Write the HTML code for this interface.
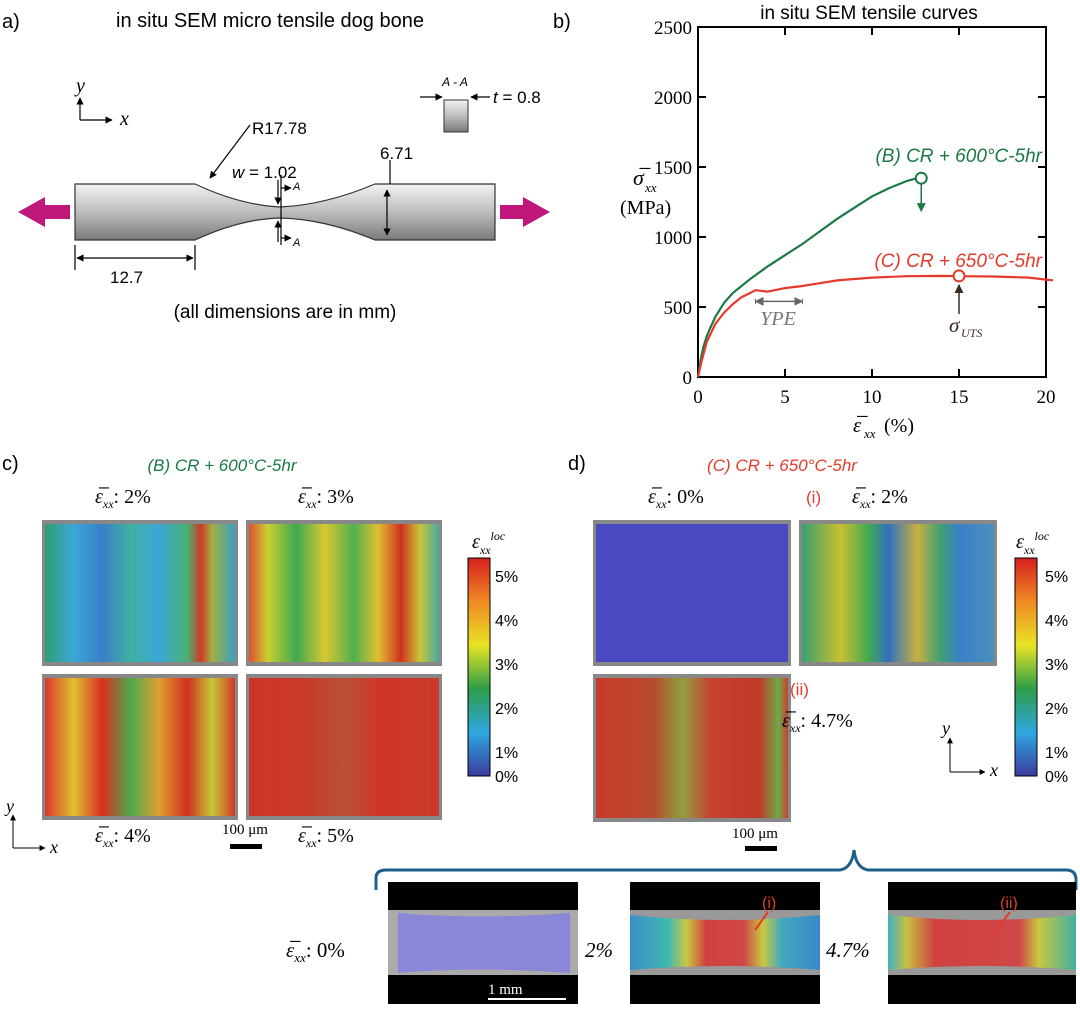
<!DOCTYPE html>
<html><head><meta charset="utf-8"><style>
body{margin:0;width:1080px;height:1014px;background:#fff;overflow:hidden;font-family:"Liberation Sans",sans-serif}
svg{position:absolute;left:0;top:0}
</style></head><body>
<svg width="1080" height="1014" viewBox="0 0 1080 1014">
<defs>
<linearGradient id="metal" x1="0" y1="0" x2="0" y2="1"><stop offset="0" stop-color="#f2f2f2"/><stop offset="0.5" stop-color="#bdbdbd"/><stop offset="1" stop-color="#7a7a7a"/></linearGradient>
<linearGradient id="cbar" x1="0" y1="1" x2="0" y2="0"><stop offset="0" stop-color="#3b3b9e"/><stop offset="0.2" stop-color="#2fa7e0"/><stop offset="0.4" stop-color="#2e9e48"/><stop offset="0.6" stop-color="#e8e424"/><stop offset="0.8" stop-color="#f08a22"/><stop offset="1" stop-color="#d62020"/></linearGradient>
<linearGradient id="h1" x1="0" x2="1"><stop offset="0" stop-color="#2e9e70"/><stop offset="0.15" stop-color="#3aa8d8"/><stop offset="0.3" stop-color="#3a7ec8"/><stop offset="0.45" stop-color="#40b0a0"/><stop offset="0.6" stop-color="#3aa8d8"/><stop offset="0.75" stop-color="#4ab070"/><stop offset="0.82" stop-color="#d03828"/><stop offset="0.88" stop-color="#a0b040"/><stop offset="1" stop-color="#3aa0c0"/></linearGradient>
<linearGradient id="h2" x1="0" x2="1"><stop offset="0" stop-color="#e05030"/><stop offset="0.1" stop-color="#c8d030"/><stop offset="0.25" stop-color="#40a850"/><stop offset="0.4" stop-color="#d8c830"/><stop offset="0.55" stop-color="#50b050"/><stop offset="0.68" stop-color="#e0c030"/><stop offset="0.8" stop-color="#d03020"/><stop offset="0.9" stop-color="#c8c838"/><stop offset="1" stop-color="#48a8a0"/></linearGradient>
<linearGradient id="h3" x1="0" x2="1"><stop offset="0" stop-color="#d83828"/><stop offset="0.15" stop-color="#e0c030"/><stop offset="0.3" stop-color="#d83020"/><stop offset="0.45" stop-color="#50a850"/><stop offset="0.6" stop-color="#e0a030"/><stop offset="0.75" stop-color="#d03020"/><stop offset="0.88" stop-color="#c8c838"/><stop offset="1" stop-color="#d03828"/></linearGradient>
<linearGradient id="h4" x1="0" x2="1"><stop offset="0" stop-color="#d03428"/><stop offset="0.3" stop-color="#c83a2a"/><stop offset="0.5" stop-color="#b85038"/><stop offset="0.7" stop-color="#d03428"/><stop offset="1" stop-color="#c83a2a"/></linearGradient>
<linearGradient id="d2g" x1="0" x2="1"><stop offset="0" stop-color="#3aa070"/><stop offset="0.2" stop-color="#c8c030"/><stop offset="0.35" stop-color="#40a850"/><stop offset="0.45" stop-color="#3070c0"/><stop offset="0.6" stop-color="#c8b040"/><stop offset="0.72" stop-color="#40a070"/><stop offset="0.82" stop-color="#3a80c8"/><stop offset="1" stop-color="#4a90c0"/></linearGradient>
<linearGradient id="d3g" x1="0" x2="1"><stop offset="0" stop-color="#c83a2a"/><stop offset="0.3" stop-color="#b84a30"/><stop offset="0.45" stop-color="#90a040"/><stop offset="0.6" stop-color="#c84030"/><stop offset="0.85" stop-color="#c03a28"/><stop offset="0.95" stop-color="#70a848"/><stop offset="1" stop-color="#c84030"/></linearGradient>
<linearGradient id="b2" x1="0" x2="1"><stop offset="0" stop-color="#3a8ec8"/><stop offset="0.2" stop-color="#40b8b0"/><stop offset="0.3" stop-color="#c8c840"/><stop offset="0.4" stop-color="#d04040"/><stop offset="0.6" stop-color="#d04848"/><stop offset="0.7" stop-color="#c8c840"/><stop offset="0.8" stop-color="#40a8c0"/><stop offset="1" stop-color="#3a88c8"/></linearGradient>
<linearGradient id="b3" x1="0" x2="1"><stop offset="0" stop-color="#40b0c0"/><stop offset="0.1" stop-color="#c8c040"/><stop offset="0.25" stop-color="#d04040"/><stop offset="0.7" stop-color="#d04848"/><stop offset="0.8" stop-color="#c8c840"/><stop offset="1" stop-color="#40b0a0"/></linearGradient>
<marker id="ah" viewBox="0 0 10 10" refX="9" refY="5" markerWidth="6" markerHeight="6" orient="auto-start-reverse"><path d="M0,0L10,5L0,10z" fill="#000"/></marker>
<marker id="ahg" viewBox="0 0 10 10" refX="9" refY="5" markerWidth="6" markerHeight="6" orient="auto"><path d="M0,0L10,5L0,10z" fill="#1a7a45"/></marker>
<marker id="ahr" viewBox="0 0 10 10" refX="9" refY="5" markerWidth="6" markerHeight="6" orient="auto"><path d="M0,0L10,5L0,10z" fill="#3a2a20"/></marker>
<marker id="ahgy" viewBox="0 0 10 10" refX="9" refY="5" markerWidth="6" markerHeight="6" orient="auto-start-reverse"><path d="M0,0L10,5L0,10z" fill="#666"/></marker>
</defs>

<!-- Panel a -->
<g font-family="Liberation Sans, sans-serif">
<text x="2" y="28" font-size="20">a)</text>
<text x="270" y="27" font-size="20" text-anchor="middle">in situ SEM micro tensile dog bone</text>
<path d="M75,184 H195 Q240,205 280,207 Q325,205 375,184 H495 V240 H375 Q325,219 280,218 Q240,219 195,240 H75Z" fill="url(#metal)" stroke="#333" stroke-width="1.2"/>
<path d="M18,212 L45,197 V205 H70 V219 H45 V227Z" fill="#c0177a"/>
<path d="M550,212 L523,197 V205 H500 V219 H523 V227Z" fill="#c0177a"/>
<g stroke="#000" stroke-width="1.2" fill="none">
<path d="M80,120 V98" marker-end="url(#ah)"/><path d="M80,120 H112" marker-end="url(#ah)"/>
<path d="M250,125 L210,178" marker-end="url(#ah)"/>
<path d="M390,184 V160"/>
<path d="M387,190 V235" marker-start="url(#ah)" marker-end="url(#ah)"/>
<path d="M75,245 V270"/><path d="M195,245 V270"/><path d="M77,258 H193" marker-start="url(#ah)" marker-end="url(#ah)"/>
<path d="M281,175 V245"/><path d="M281,188 H291" marker-end="url(#ah)"/><path d="M281,238 H291" marker-end="url(#ah)"/>
<path d="M278,180 V204" marker-end="url(#ah)"/><path d="M278,242 V221" marker-end="url(#ah)"/>
<path d="M420,97 H442" marker-end="url(#ah)"/><path d="M490,97 H471" marker-end="url(#ah)"/>
</g>
<text x="76" y="92" font-size="20" font-style="italic" font-family="Liberation Serif,serif">y</text>
<text x="120" y="125" font-size="20" font-style="italic" font-family="Liberation Serif,serif">x</text>
<text x="252" y="134" font-size="17">R17.78</text>
<text x="232" y="178" font-size="17"><tspan font-style="italic">w</tspan> = 1.02</text>
<text x="293" y="190" font-size="11" font-style="italic">A</text>
<text x="293" y="246" font-size="11" font-style="italic">A</text>
<text x="380" y="159" font-size="17">6.71</text>
<text x="110" y="283" font-size="17">12.7</text>
<text x="285" y="318" font-size="19" text-anchor="middle">(all dimensions are in mm)</text>
<text x="455" y="86" font-size="12" font-style="italic" text-anchor="middle">A - A</text>
<rect x="444" y="100" width="24" height="32" fill="url(#metal)" stroke="#333"/>
<text x="493" y="103" font-size="17"><tspan font-style="italic">t</tspan> = 0.8</text>
</g>

<!-- Panel b -->
<g>
<text x="553" y="28" font-size="20">b)</text>
<text x="869" y="19" font-size="19" text-anchor="middle">in situ SEM tensile curves</text>
<g id="chart" font-family="Liberation Serif,serif"></g>
</g>

<!-- Panel c -->
<g font-family="Liberation Serif,serif">
<text x="2" y="470" font-size="20" font-family="Liberation Sans,sans-serif">c)</text>
<text x="222" y="471" font-size="17" font-style="italic" fill="#1a7a45" text-anchor="middle" font-family="Liberation Sans,sans-serif">(B) CR + 600°C-5hr</text>
<text x="95" y="503" font-size="20"><tspan font-style="italic">ε̅<tspan font-size="12" dy="5">xx</tspan></tspan><tspan dy="-5">:  2%</tspan></text>
<text x="298" y="503" font-size="20"><tspan font-style="italic">ε̅<tspan font-size="12" dy="5">xx</tspan></tspan><tspan dy="-5">:  3%</tspan></text>
<rect x="42" y="520" width="196" height="146" fill="#888"/><rect x="45" y="524" width="190" height="138" fill="url(#h1)"/>
<rect x="246" y="520" width="196" height="146" fill="#888"/><rect x="249" y="524" width="190" height="138" fill="url(#h2)"/>
<rect x="42" y="674" width="196" height="146" fill="#888"/><rect x="45" y="678" width="190" height="138" fill="url(#h3)"/>
<rect x="246" y="674" width="196" height="146" fill="#888"/><rect x="249" y="678" width="190" height="138" fill="url(#h4)"/>
<text x="95" y="842" font-size="20"><tspan font-style="italic">ε̅<tspan font-size="12" dy="5">xx</tspan></tspan><tspan dy="-5">:  4%</tspan></text>
<text x="298" y="842" font-size="20"><tspan font-style="italic">ε̅<tspan font-size="12" dy="5">xx</tspan></tspan><tspan dy="-5">:  5%</tspan></text>
<text x="222" y="834" font-size="15">100 μm</text><rect x="230" y="844" width="32" height="5" fill="#000"/>
<path d="M13,848 V815" stroke="#000" marker-end="url(#ah)"/><path d="M13,848 H45" stroke="#000" marker-end="url(#ah)"/>
<text x="6" y="812" font-size="18" font-style="italic">y</text><text x="50" y="853" font-size="18" font-style="italic">x</text>
<text x="472" y="548" font-size="20" font-style="italic">ε<tspan font-size="12" dy="6">xx</tspan><tspan font-size="12" dy="-14">loc</tspan></text>
<rect x="468" y="558" width="22" height="218" fill="url(#cbar)" stroke="#000"/>
<g font-size="16" font-family="Liberation Sans,sans-serif"><text x="495" y="582">5%</text><text x="495" y="626">4%</text><text x="495" y="670">3%</text><text x="495" y="714">2%</text><text x="495" y="758">1%</text><text x="495" y="782">0%</text></g>
</g>

<!-- Panel d -->
<g font-family="Liberation Serif,serif">
<text x="568" y="470" font-size="20" font-family="Liberation Sans,sans-serif">d)</text>
<text x="782" y="471" font-size="17" font-style="italic" fill="#e53a2a" text-anchor="middle" font-family="Liberation Sans,sans-serif">(C) CR + 650°C-5hr</text>
<text x="648" y="503" font-size="20"><tspan font-style="italic">ε̅<tspan font-size="12" dy="5">xx</tspan></tspan><tspan dy="-5">:  0%</tspan></text>
<text x="806" y="503" font-size="17" fill="#e53a2a" font-family="Liberation Sans,sans-serif">(i)</text>
<text x="852" y="503" font-size="20"><tspan font-style="italic">ε̅<tspan font-size="12" dy="5">xx</tspan></tspan><tspan dy="-5">:  2%</tspan></text>
<rect x="593" y="520" width="198" height="146" fill="#888"/><rect x="596" y="524" width="192" height="138" fill="#4a4ac0"/>
<rect x="799" y="520" width="198" height="146" fill="#888"/><rect x="802" y="524" width="192" height="138" fill="url(#d2g)"/>
<rect x="593" y="674" width="198" height="148" fill="#888"/><rect x="596" y="678" width="192" height="140" fill="url(#d3g)"/>
<text x="790" y="695" font-size="17" fill="#e53a2a" font-family="Liberation Sans,sans-serif">(ii)</text>
<text x="782" y="727" font-size="20"><tspan font-style="italic">ε̅<tspan font-size="12" dy="5">xx</tspan></tspan><tspan dy="-5">: 4.7%</tspan></text>
<text x="732" y="838" font-size="15">100 μm</text><rect x="745" y="846" width="32" height="5" fill="#000"/>
<path d="M950,772 V738" stroke="#000" marker-end="url(#ah)"/><path d="M950,772 H985" stroke="#000" marker-end="url(#ah)"/>
<text x="942" y="734" font-size="18" font-style="italic">y</text><text x="990" y="776" font-size="18" font-style="italic">x</text>
<text x="1016" y="548" font-size="20" font-style="italic">ε<tspan font-size="12" dy="6">xx</tspan><tspan font-size="12" dy="-14">loc</tspan></text>
<rect x="1015" y="558" width="22" height="218" fill="url(#cbar)" stroke="#000"/>
<g font-size="16" font-family="Liberation Sans,sans-serif"><text x="1045" y="582">5%</text><text x="1045" y="626">4%</text><text x="1045" y="670">3%</text><text x="1045" y="714">2%</text><text x="1045" y="758">1%</text><text x="1045" y="782">0%</text></g>
</g>

<!-- Bottom row -->
<g font-family="Liberation Serif,serif">
<path d="M376,890 V878 Q376,870 386,870 H840 Q852,868 854,850 Q856,868 868,870 H1066 Q1076,870 1076,880 V890" fill="none" stroke="#1d5f8a" stroke-width="3"/>
<text x="286" y="957" font-size="21"><tspan font-style="italic">ε̅<tspan font-size="13" dy="5">xx</tspan></tspan><tspan dy="-5">:  0%</tspan></text>
<rect x="388" y="882" width="190" height="122" fill="#000"/>
<path d="M388,910 H578 V975 H388Z" fill="#aaa"/><path d="M398,913 Q480,920 570,913 V973 Q480,966 398,973Z" fill="#8a86d8"/>
<text x="488" y="994" font-size="15" fill="#fff">1 mm</text><rect x="488" y="998" width="78" height="2" fill="#fff"/>
<text x="585" y="957" font-size="21" font-style="italic">2%</text>
<rect x="630" y="882" width="190" height="122" fill="#000"/>
<path d="M630,910 H820 V975 H630Z" fill="#999"/><path d="M630,915 Q725,925 820,915 V970 Q725,962 630,970Z" fill="url(#b2)"/>
<text x="762" y="908" font-size="16" fill="#e53a2a" font-family="Liberation Sans,sans-serif">(i)</text><path d="M768,912 L755,930" stroke="#e53a2a" stroke-width="2"/>
<text x="826" y="957" font-size="21" font-style="italic">4.7%</text>
<rect x="888" y="882" width="188" height="122" fill="#000"/>
<path d="M888,910 H1076 V975 H888Z" fill="#999"/><path d="M888,915 Q982,925 1076,915 V970 Q982,962 888,970Z" fill="url(#b3)"/>
<text x="1000" y="908" font-size="16" fill="#e53a2a" font-family="Liberation Sans,sans-serif">(ii)</text><path d="M1010,912 L995,932" stroke="#e53a2a" stroke-width="2"/>
</g>
</svg>
<script>
const yTicks=[0,500,1000,1500,2000,2500];
const xTicks=[0,5,10,15,20];
const greenStrain=[0,0.15,0.3,0.5,0.7,1,1.5,2,3,4,5,6,7,8,9,10,11,12,12.6];
const greenStress=[0,120,210,290,350,430,530,600,700,790,870,950,1040,1130,1210,1290,1350,1400,1420];
const redStrain=[0,0.2,0.5,1,1.5,2,2.5,3,3.3,4,5,6,7,8,10,12,14,15,17,19,20.4];
const redStress=[0,110,250,380,460,520,570,600,620,610,635,650,670,690,710,720,722,720,718,710,690];
const NS='http://www.w3.org/2000/svg';
const X0=698,X1=1046,Y0=377,Y1=27,XMAX=20,YMAX=2500;
const sx=v=>X0+(X1-X0)*v/XMAX, sy=v=>Y0-(Y0-Y1)*v/YMAX;
const g=document.getElementById('chart');
function mk(t,a,txt){const e=document.createElementNS(NS,t);for(const k in a)e.setAttribute(k,a[k]);if(txt!=null)e.textContent=txt;g.appendChild(e);return e;}
let e=mk('rect',{x:X0,y:Y1,width:X1-X0,height:Y0-Y1,fill:'none',stroke:'#000','stroke-width':2});


yTicks.forEach(v=>{mk('line',{x1:X0,x2:X0+8,y1:sy(v),y2:sy(v),stroke:'#000','stroke-width':2});mk('line',{x1:X1-8,x2:X1,y1:sy(v),y2:sy(v),stroke:'#000','stroke-width':2});
 e=mk('text',{x:X0-6,y:sy(v)+7,'font-size':19,'text-anchor':'end'},v);
 
 });
xTicks.forEach(v=>{mk('line',{x1:sx(v),x2:sx(v),y1:Y0,y2:Y0-8,stroke:'#000','stroke-width':2});mk('line',{x1:sx(v),x2:sx(v),y1:Y1,y2:Y1+8,stroke:'#000','stroke-width':2});
 e=mk('text',{x:sx(v),y:Y0+26,'font-size':19,'text-anchor':'middle'},v);
 
 });
function line(xs,ys,col,name){let d=xs.map((x,i)=>(i?'L':'M')+sx(x).toFixed(1)+','+sy(ys[i]).toFixed(1)).join('');
 const p=mk('path',{d:d,fill:'none',stroke:col,'stroke-width':2.2});
 
 }
line(greenStrain,greenStress,'#1a7a45','curve-600c');
line(redStrain,redStress,'#e53a2a','curve-650c');
const gi=greenStrain.length-1;
mk('circle',{cx:sx(greenStrain[gi])+4,cy:sy(greenStress[gi]),r:5.5,fill:'#fff',stroke:'#1a7a45','stroke-width':2});
mk('line',{x1:sx(greenStrain[gi])+4,y1:sy(greenStress[gi])+6,x2:sx(greenStrain[gi])+4,y2:sy(greenStress[gi])+33,stroke:'#1a7a45','stroke-width':1.5,'marker-end':'url(#ahg)'});
mk('circle',{cx:sx(15),cy:sy(722),r:5.5,fill:'#fff',stroke:'#e53a2a','stroke-width':2});
mk('line',{x1:sx(15),y1:sy(722)+38,x2:sx(15),y2:sy(722)+9,stroke:'#3a2a20','stroke-width':1.5,'marker-end':'url(#ahr)'});
mk('text',{x:sx(15)-10,y:sy(722)+56,'font-size':21,fill:'#3a2a20','font-style':'italic'},'σ');
mk('text',{x:sx(15)+2,y:sy(722)+61,'font-size':12,fill:'#3a2a20','font-style':'italic'},'UTS');
mk('line',{x1:sx(3.3),y1:sy(540),x2:sx(6),y2:sy(540),stroke:'#666','stroke-width':1.5,'marker-start':'url(#ahgy)','marker-end':'url(#ahgy)'});
mk('line',{x1:sx(3.3),y1:sy(520),x2:sx(3.3),y2:sy(560),stroke:'#666'});mk('line',{x1:sx(6),y1:sy(520),x2:sx(6),y2:sy(560),stroke:'#666'});
mk('text',{x:sx(4.6),y:sy(370),'font-size':20,fill:'#777','font-style':'italic','text-anchor':'middle'},'YPE');
e=mk('text',{x:1042,y:162,'font-size':19,fill:'#1a7a45','font-style':'italic','text-anchor':'end','font-family':'Liberation Sans,sans-serif'},'(B) CR + 600°C-5hr');


e=mk('text',{x:1042,y:267,'font-size':19,fill:'#e53a2a','font-style':'italic','text-anchor':'end','font-family':'Liberation Sans,sans-serif'},'(C) CR + 650°C-5hr');


e=mk('text',{x:633,y:185,'font-size':22,'font-style':'italic'},'σ̅');
mk('text',{x:645,y:192,'font-size':13,'font-style':'italic'},'xx');
e=mk('text',{x:620,y:214,'font-size':20},'(MPa)');


e=mk('text',{x:853,y:432,'font-size':21,'font-style':'italic'},'ε̅');
mk('text',{x:864,y:438,'font-size':13,'font-style':'italic'},'xx');
e=mk('text',{x:884,y:432,'font-size':20},'(%)');


</script>
</body></html>
